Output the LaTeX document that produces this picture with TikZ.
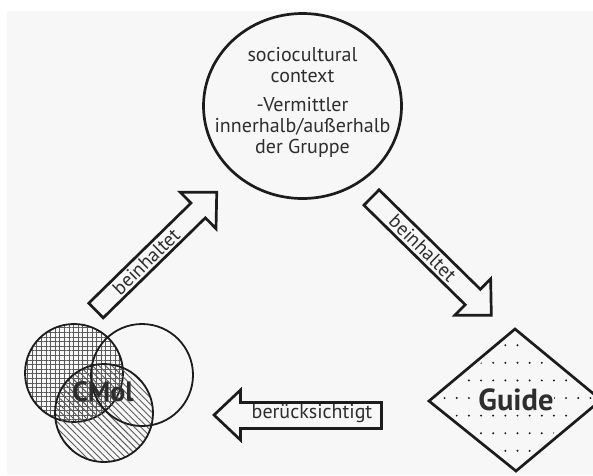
\documentclass[tikz,border=0pt]{standalone}
\usepackage{fontspec}
\setmainfont{PT Sans}
\usetikzlibrary{patterns.meta,shapes.geometric}
\definecolor{bg}{HTML}{F7F7F7}
\definecolor{ink}{HTML}{1C1C1C}
\definecolor{txt}{HTML}{2E2E2E}
\definecolor{hatch}{HTML}{5A5A5A}
\begin{document}
\begin{tikzpicture}[x=1pt,y=-1pt,
  outline/.style={draw=ink, line width=2.7pt, line join=miter},
  blockarrow/.style={outline},
  lbl/.style={text=txt, inner sep=0pt, font=\fontsize{19.5}{22}\selectfont},
  venn/.style={circle, draw=ink, line width=1.8pt, inner sep=0pt, minimum size=98pt},
  bigtxt/.style={text=txt, inner sep=0pt, font=\fontsize{20}{21}\selectfont, align=center}]
\useasboundingbox (0,0) rectangle (593,475);
\fill[bg] (7,11) rectangle (593,475);

% context ellipse
\node[ellipse, outline, minimum width=198pt, minimum height=185pt, inner sep=0pt] (ctx) at (302.5,106) {};
\node[bigtxt] (ctxtext) at (302.5,102) {sociocultural\\context\\[8pt]-Vermittler\\innerhalb/außerhalb\\der Gruppe};

% arrow 1 (up-right)
\coordinate (t1) at (96,310.5);
\begin{scope}[shift={(t1)}, rotate=44.4]
  \draw[blockarrow] (0,10.3) -- (143,10.3) -- (143,25.5) -- (169,0) -- (143,-25.5) -- (143,-10.3) -- (0,-10.3) -- cycle;
  \node[lbl, transform shape] (l1) at (70,0) {beinhaltet};
\end{scope}

% arrow 2 (down-right)
\coordinate (t2) at (371.5,197.5);
\begin{scope}[shift={(t2)}, rotate=-44.5]
  \draw[blockarrow] (0,10.8) -- (142,10.8) -- (142,25.5) -- (168,0) -- (142,-25.5) -- (142,-10.8) -- (0,-10.8) -- cycle;
  \node[lbl, transform shape] (l2) at (72,0) {beinhaltet};
\end{scope}

% arrow 3 (left)
\draw[blockarrow] (381.5,402.5) -- (240.5,402.5) -- (240.5,390) -- (214,415) -- (240.5,440) -- (240.5,428.5) -- (381.5,428.5) -- cycle;
\node[lbl, font=\fontsize{20}{22}\selectfont] (l3) at (312,414) {berücksichtigt};

% Guide diamond
\coordinate (gc) at (515,400);
\begin{scope}
  \clip (515,335) -- (594,400) -- (515,465) -- (436,400) -- cycle;
  \foreach \i in {-8,...,8} {
    \foreach \j in {-4,...,4} {
      \fill[ink] (517.5+12.15*\i, 398+17.6*\j) circle (1.1pt);
    }
  }
\end{scope}
\draw[outline] (515,329) -- (601,400) -- (516,471) -- (429,401) -- cycle;
\node[text=txt, fill=bg, inner sep=0.5pt, font=\bfseries\fontsize{30.5}{32}\selectfont] (guide) at (516,400) {Guide};

% CMol Venn
\node[venn, pattern={Hatch[distance=4.6pt, angle=0, line width=0.9pt]}, pattern color=hatch] (vA) at (74,373) {};
\node[venn, pattern={Lines[distance=4.6pt, angle=-45, line width=0.9pt]}, pattern color=hatch] (vC) at (104,413) {};
\node[venn, minimum size=102pt] (vB) at (142,375) {};
\node[text=txt, inner sep=0pt, font=\bfseries\fontsize{28}{30}\selectfont] (cmol) at (103,392) {CMol};
\end{tikzpicture}
\end{document}
